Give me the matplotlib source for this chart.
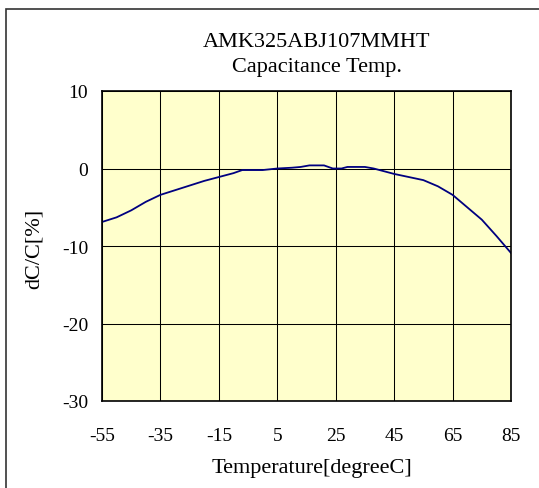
import matplotlib
matplotlib.use("Agg")
import matplotlib.pyplot as plt
from matplotlib.patches import Rectangle

plt.rcParams["axes.unicode_minus"] = False

# --- Data ---
temperature = [-55, -50, -45, -40, -35, -30, -25, -20, -15, -10, -7, 0, 5, 10, 13,
               16, 21, 24, 27, 29, 35, 38, 45, 50, 55, 60, 65, 70, 75, 80, 85]
dc_percent  = [-6.9, -6.3, -5.4, -4.3, -3.4, -2.8, -2.2, -1.6, -1.1, -0.6, -0.2, -0.2, 0.0, 0.1, 0.2,
               0.4, 0.4, 0.0, 0.0, 0.2, 0.2, 0.0, -0.7, -1.1, -1.5, -2.3, -3.4, -5.0, -6.6, -8.7, -10.9]

x_ticks = [-55, -35, -15, 5, 25, 45, 65, 85]
y_ticks = [-30, -20, -10, 0, 10]

W, H = 539, 489
FONT = "Liberation Serif"

fig = plt.figure(figsize=(W / 100, H / 100), dpi=100)
ax = fig.add_axes([102 / W, 87 / H, 409 / W, 310 / H])

ax.set_facecolor("#ffffcc")
ax.plot(temperature, dc_percent, color="#000080", linewidth=1.3)

ax.set_xlim(-55, 85)
ax.set_ylim(-30, 10)
ax.set_xticks(x_ticks)
ax.set_yticks(y_ticks)
ax.grid(True, color="black", linewidth=0.75)
ax.set_axisbelow(True)
for s in ax.spines.values():
    s.set_linewidth(1.2)
    s.set_color("black")

ax.tick_params(length=0)
ax.tick_params(axis="y", pad=10)
ax.tick_params(axis="x", pad=19)
for lab in ax.get_xticklabels() + ax.get_yticklabels():
    lab.set_fontfamily(FONT)
    lab.set_fontsize(14)

# titles and axis labels
fig.text(317 / W, 1 - 47 / H, "AMK325ABJ107MMHT", family=FONT, fontsize=16,
         ha="center", va="baseline")
fig.text(317 / W, 1 - 72 / H, "Capacitance Temp.", family=FONT, fontsize=16,
         ha="center", va="baseline")
fig.text(311.5 / W, 1 - 473 / H, "Temperature[degreeC]", family=FONT, fontsize=16,
         ha="center", va="baseline")
fig.text(34 / W, 1 - 249 / H, "dC/C[%]", family=FONT, fontsize=16,
         ha="center", va="center", rotation=90)

# outer frame (only left and top edges fall inside the picture)
fig.patches.append(Rectangle((6 / W, -0.1), 1.2, (1 - 9.5 / H) + 0.1,
                             transform=fig.transFigure, fill=False,
                             edgecolor="#333333", linewidth=1.2))

fig.savefig("out.png", dpi=100)
